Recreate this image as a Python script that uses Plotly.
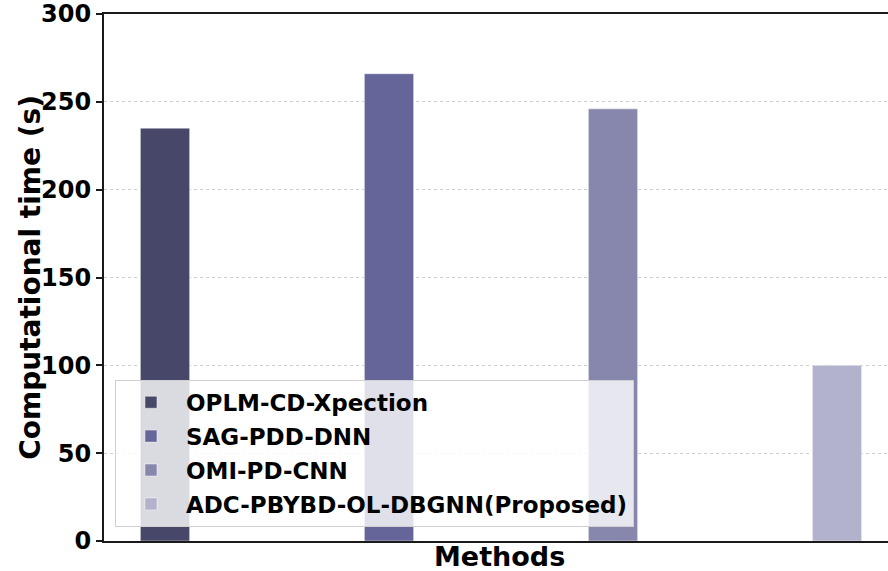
import plotly.graph_objects as go

methods = ["OPLM-CD-Xpection", "SAG-PDD-DNN", "OMI-PD-CNN", "ADC-PBYBD-OL-DBGNN(Proposed)"]
times = [235, 266, 246, 100]
positions = [0, 1, 2, 3]
colors = ["#47476a", "#65659a", "#8787ae", "#b2b2cc"]
yticks = [0, 50, 100, 150, 200, 250, 300]

FONT = "DejaVu Sans"

fig = go.Figure()
for i, (m, t, p, c) in enumerate(zip(methods, times, positions, colors)):
    fig.add_trace(go.Bar(
        x=[p], y=[t], name=m, width=0.22,
        marker=dict(color=c, line=dict(color="rgba(255,255,255,0.45)", width=1)),
        legendgroup=f"g{i}",
    ))

fig.update_layout(
    width=888, height=571,
    margin=dict(l=104, r=0, t=14, b=30),
    plot_bgcolor="white", paper_bgcolor="white",
    barmode="overlay",
    showlegend=True,
    hovermode=False,
    font=dict(family=FONT, color="black"),
    legend=dict(
        x=0.014, y=0.027, xanchor="left", yanchor="bottom",
        bgcolor="rgba(255,255,255,0.8)", bordercolor="#d0d0d0", borderwidth=1,
        font=dict(family=FONT, size=23, color="black", weight="bold"),
        itemwidth=60, tracegroupgap=1,
    ),
    xaxis=dict(
        range=[-0.2723, 3.2277], showticklabels=False, ticks="",
        showgrid=False, zeroline=False,
        showline=True, linecolor="#1a1a1a", linewidth=2, mirror=True,
    ),
    yaxis=dict(
        range=[0, 300], tickvals=yticks, ticktext=[str(v) for v in yticks],
        ticks="outside", ticklen=6, tickwidth=1.5, tickcolor="#1a1a1a",
        tickfont=dict(family=FONT, size=24, color="black", weight="bold"),
        ticklabeloverflow="allow",
        showgrid=True, gridcolor="#cfcfcf", griddash="dot", gridwidth=1,
        zeroline=False,
        showline=True, linecolor="#1a1a1a", linewidth=2, mirror=False,
    ),
)

fig.add_annotation(
    text="Methods", xref="paper", yref="paper", x=0.505, y=0,
    xanchor="center", yanchor="top", yshift=2, showarrow=False,
    font=dict(family=FONT, size=27, color="black", weight="bold"),
)
fig.add_annotation(
    text="Computational time (s)", xref="paper", yref="paper",
    x=-0.094, y=0.5, xanchor="center", yanchor="middle", textangle=-90,
    showarrow=False,
    font=dict(family=FONT, size=28, color="black", weight="bold"),
)

fig.write_html(
    "out.html",
    config={"displayModeBar": False},
    post_script="document.body.style.margin='0px';document.body.style.overflow='hidden';",
)
